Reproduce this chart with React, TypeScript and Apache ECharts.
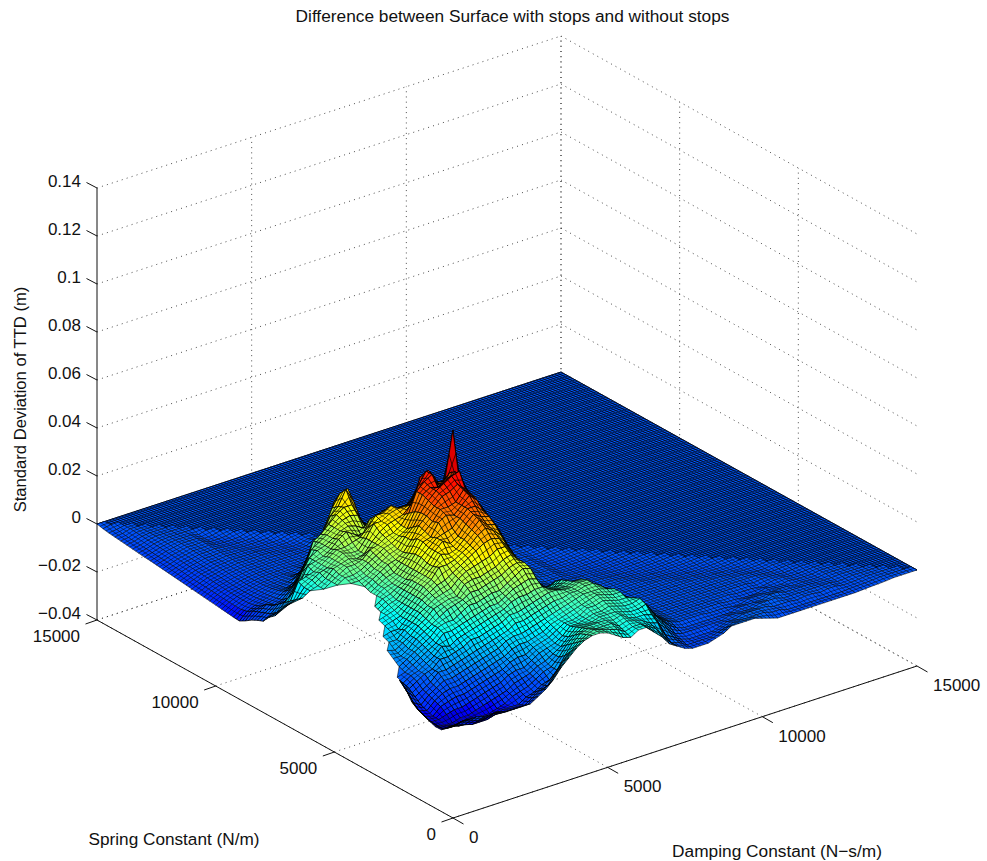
import React, { useEffect, useRef } from "react";
import * as echarts from "echarts";

const _ = null;
const titleText = "Difference between Surface with stops and without stops";
const xAxisName = "Damping Constant (N\u2212s/m)";
const yAxisName = "Spring Constant (N/m)";
const zAxisName = "Standard Deviation of TTD (m)";
const xyTicks = [0, 5000, 10000, 15000];
const zTicks = [-0.04, -0.02, 0, 0.02, 0.04, 0.06, 0.08, 0.1, 0.12, 0.14];
const zLabels = ["\u22120.04", "\u22120.02", "0", "0.02", "0.04", "0.06", "0.08", "0.1", "0.12", "0.14"];
const SPAN = 15000;
const CELLS = 60; // surface read every 250 units
const FINE = 150; // flat part of the sheet, z = 0, mesh every 100 units

// Heights in mm; row = damping index, column = spring index. Unlisted columns lie on the flat z = 0 part.
const heights: (number | null)[][] = [
  [-2,-4,-6,-6,-5,-4,-3,-1,3,5,_,_,_,_,_,_,_,_,_,_,_,_,_,_,_,_,_,_,_,_,3,1,-2,-3,-4.3,-6,-7.4,-7.2,-6.9,-6.6,-6.3,-6,-5.7,-5.4,-5.1,-4.8,-4.5,-4.2,-3.9,-3.6,-3.3,-3,-2.8,-2.5,-2.2,-1.9,-1.6,-1.3,-1,-0.6],
  [-1,-4,-6,-8,-8,-8,-7,-6,-4,-1,2,_,_,_,_,_,_,_,_,_,_,_,_,_,_,_,_,_,_,8,5,2,0,-1,-2,-3,-4.5,-5,-5,-4.8,-4.6,-4.4,-4.2,-4,-3.8,-3.6,-3.3,-3,-2.8,-2.6,-2.4,-2.2,-2,-1.8,-1.6,-1.4,-1.2,-0.9,-0.6],
  [-1,-3,-6,-8,-9,-8,-8,-7,-6,-4,-2,-1,0,_,_,_,_,_,_,_,_,_,_,_,_,_,_,_,11,9,7,5,3,1,0,-2,-3,-3.5,-3.6,-3.5,-3.4,-3.2,-3,-2.8,-2.6,-2.4,-2.2,-2,-1.8,-1.6,-1.4,-1.2,-1,-0.8,-0.6,-0.4,-0.2],
  [-1,-4,-7,-9,-9,-7,-5,-4,-3,-2,0,1,1,2,4,6,_,_,_,_,_,_,_,_,_,_,_,_,13,13,14,8,2,0,-1,-1.6,-2,-2.4,-2.6,-2.7,-2.7,-2.6,-2.4,-2.2,-2,-1.8,-1.6,-1.4,-1.2,-1,-0.8,-0.6,-0.4,-0.2],
  [-2,-5,-8,-9,-8,-6,-4,-2,-1,0,2,2,3,4,4,5,7,8,_,_,_,_,_,_,_,_,_,14,14,15,15,11,6,2,0,-0.8,-1.2,-1.6,-1.8,-1.9,-1.9,-1.8,-1.7,-1.5,-1.3,-1.1,-0.9,-0.7,-0.5,-0.3,-0.1],
  [-2,-5,-8,-8,-8,-6,-3,-1,1,3,3,4,5,6,6,7,7,9,10,11,_,_,_,_,_,_,16,16,16,17,16,17,13,7,3,1,0,-0.6,-1,-1.2,-1.3,-1.3,-1.2,-1.1,-1,-0.9,-0.8,-0.6,-0.4,-0.3,-0.2],
  [-2,-4,-8,-8,-7,-5,-3,-1,1,3,6,6,7,8,9,9,10,9,11,12,12,13,_,_,_,17,18,18,19,18,18,18,18,12,6,2,0,-0.5,-0.8,-0.9,-0.9,-0.9,-0.8,-0.7,-0.6,-0.5,-0.4,-0.3,-0.2,-0.1],
  [-3,-5,-7,-8,-6,-4,-2,0,2,4,6,9,9,10,11,12,12,12,12,13,14,15,15,15,16,17,18,20,20,20,20,19,20,19,11,5,1,0,-0.5,-0.6,-0.7,-0.7,-0.7,-0.7,-0.6,-0.6,-0.6,-0.6,-0.6,-0.8,-1,-1,-0.8],
  [-3,-5,-6,-7,-5,-3,-1,1,3,5,7,8,12,13,13,14,15,15,15,15,15,16,17,17,18,18,19,20,21,22,22,21,21,21,20,12,5,1,0,-0.5,-0.6,-0.6,-0.6,-0.6,-0.6,-0.6,-0.6,-0.7,-0.9,-1,-1,-0.8],
  [-3,-5,-6,-6,-4,-2,0,2,4,6,8,10,12,14,15,17,17,18,18,18,18,18,18,19,20,20,21,21,20,21,22,24,23,23,22,17,10,3,0,-0.5,-0.5,-0.5,-0.5,-0.5,-0.5,-0.6,-0.8,-1,-1,-1,-0.8],
  [-3,-5,-6,-4,-3,-1,1,3,5,7,10,11,13,14,17,18,19,20,21,21,21,20,20,20,22,22,23,24,21,21,23,26,25,25,25,20,12,5,1,0,-0.5,-0.5,-0.5,-0.5,-0.6,-0.8,-1,-1,-1,-0.8],
  [-1,-3,-4,-3,-1,1,2,4,6,8,10,12,14,16,18,19,20,22,23,23,23,23,23,23,23,24,25,25,25,25,24,24,26,27,28,26,20,10,3,0,-0.5,-0.5,-0.5,-0.6,-0.8,-1,-1,-1,-0.8],
  [1,-1,-3,-2,0,2,4,5,7,9,11,13,15,18,19,19,21,23,27,26,26,27,27,26,25,25,26,27,28,30,27,22,25,28,30,29,27,16,7,2,0,-0.5,-0.5,-0.6,-0.8,-1,-1,-0.8],
  [4,0,-1,0,1,2,5,7,9,10,12,14,16,18,21,23,24,25,27,30,30,30,31,31,29,29,28,28,30,30,31,28,23,27,30,35,32,27,15,6,1,0,-0.5,-0.8,-1,-1,-0.8],
  [8,4,0,2,3,4,5,8,10,11,13,15,17,19,21,24,26,27,28,29,33,33,32,33,34,32,30,30,31,32,31,29,24,21,24,29,33,29,22,13,5,1,0,-0.5,-0.8,-0.6],
  [11,8,3,3,4,6,7,8,10,13,15,16,17,20,22,24,27,29,30,30,31,34,37,36,37,37,36,34,32,33,33,30,26,22,18,17,18,22,24,20,12,6,2,1,0],
  [14,11,8,6,6,7,8,9,11,13,15,18,19,20,23,25,28,31,32,33,33,35,39,40,40,41,42,42,35,33,31,29,27,22,18,14,12,14,18,18,12,6,2,0],
  [16,14,12,10,8,8,9,10,12,14,16,19,21,22,24,26,29,33,35,36,37,38,38,40,43,44,44,45,42,33,31,29,27,25,22,18,15,12,12,13,12,7,3,0],
  [17,16,15,13,11,10,11,12,13,15,17,19,22,24,26,28,31,34,37,39,40,41,41,41,44,46,43,47,47,43,33,29,26,24,20,16,13,10,8,7,6,4,0],
  [17,17,16,15,14,13,13,13,14,16,18,20,23,26,27,29,31,33,35,36,38,41,44,45,46,48,45,39,44,45,40,34,27,23,19,15,11,9,6,4,2,0],
  [16,16,15,15,14,13,13,14,15,17,19,20,22,25,26,26,27,29,32,35,37,38,41,42,43,49,46,43,37,39,42,38,33,25,20,14,10,7,5,2,0],
  [14,15,15,15,14,14,14,15,16,17,19,18,16,16,18,20,22,24,26,29,32,33,35,37,38,39,41,45,43,38,35,38,36,32,24,20,14,9,6,0],
  [12,14,15,15,15,15,16,16,17,18,18,17,15,14,12,14,16,18,20,22,25,28,30,32,34,36,37,38,42,41,37,31,34,32,28,22,16,10,0],
  [11,12,13,14,15,15,16,17,18,18,18,17,16,14,12,10,12,14,16,17,19,21,24,26,28,30,32,33,34,38,56,36,30,30,30,26,20,0],
  [13,13,14,15,15,16,17,18,18,19,19,18,17,16,14,11,8,8,10,12,13,14,15,17,19,21,23,24,26,27,28,34,30,24,20,16,0],
  [13,13,13,13,14,15,16,17,18,19,19,18,15,13,11,8,6,5,5,6,7,8,9,10,11,12,14,15,16,17,18,20,19,14,9,0],
  [10,11,12,12,13,14,15,16,17,17,16,13,10,7,5,4,3,2,2,3,3,4,4,5,5,6,7,8,9,10,10,9,6,3,0],
  [7,9,10,12,13,14,15,16,16,14,10,7,5,3,2,1,1,1,1,1,1,1,2,2,3,3,4,4,4,3,2,1,0],
  [3,5,9,11,14,15,14,12,9,5,3,2,1,0.5,0,0,0,0,0,0,0,0,0.5,1,1,1,1,0.5,0],
  [1,1,3,6,9,11,11,9,6,3,2,1,0.5,0],
  [-1,0,1,3,5,6,6,5,3,2,1,0.5,0],
  [-2,-2,-1,0,2,3,3,2,2,1,0.5,0,0,0,0,0,0,0,0,0,-0.3,-0.5,-0.7,-0.8,-0.8,-0.8,-0.7,-0.5,-0.3],
  [-2,-2,-2,-1,0,1,1,1,1,0.5,0,0,0,0,0,0,0,0,0,-0.3,-0.5,-0.7,-0.8,-0.8,-0.8,-0.7,-0.5,-0.3],
  [-2,-2,-2,-1,-1,0,0,0,0,0,0,0,0,0,0,0,0,0,0,-0.3,-0.5,-0.7,-0.8,-0.8,-0.7,-0.5,-0.3],
  [-1,-2,-2,-1,-1,0,0,0,0,0,0,0,0,0,0,0,0,0,-0.3,-0.5,-0.7,-0.8,-0.8,-0.7,-0.5,-0.3],
  [0,-1,-2,-1,-1,0,0,0,0,0,0,0,0,0,0,0,0,-0.3,-0.5,-0.7,-0.8,-0.8,-0.7,-0.5,-0.3],
  [2,0,-1,-1,-1,0,0,0,0,0,0,0,0,0,0,0,-0.3,-0.5,-0.7,-0.8,-0.7,-0.6,-0.5,-0.3],
  [2,1,0,-1,-1,-0.5,0,0,0,0,0,0,0,0,0,-0.3,-0.5,-0.7,-0.8,-0.7,-0.6,-0.5,-0.3],
  [2,1,0,0,-1,-0.5,0,0,0,0,0,0,0,0,0,-0.3,-0.5,-0.7,-0.7,-0.6,-0.5,-0.3],
  [2,1,1,0,-1,-0.5,0,0,0,0,0,0,0,0,-0.3,-0.5,-0.7,-0.7,-0.6,-0.5,-0.3],
  [1,1,1,0,0,-1,-0.5,0,0,0,0,0,0,-0.3,-0.5,-0.7,-0.7,-0.6,-0.5,-0.3],
  [0,1,1,0,0,-1,-0.5,0,0,0,0,0,0,-0.3,-0.5,-0.7,-0.6,-0.5,-0.3],
  [-1,0,1,1,0,0,-1,-0.5,0,0,0,0,-0.3,-0.5,-0.7,-0.6,-0.5,-0.3],
  [-1,0,0,1,0,0,-1,-0.5,0,0,0,0,-0.3,-0.5,-0.6,-0.5,-0.3],
  [-1,-1,0,1,1,0,-1,-0.5,0,0,0,-0.3,-0.5,-0.6,-0.5,-0.3],
  [-1,-1,0,0,1,0,0,-1,-0.5,0,0,-0.3,-0.5,-0.5,-0.3],
  [-1,-1,-0.5,0,0,0,-0.5,-0.5,0,0,-0.3,-0.5,-0.5,-0.3],
  [-1,-1,0,0,0,0,-0.5,0,0,-0.3,-0.5,-0.5,-0.3],
  [-1,-1,0,0,0,-0.5,0,0,-0.3,-0.5,-0.5,-0.3],
  [-1,-1,-0.5,0,0,-0.3,-0.5,-0.5,-0.5,-0.3],
  [-1,-1,0,0,-0.3,-0.5,-0.5,-0.5,-0.3],
  [-1,-1,0,0,-0.3,-0.5,-0.5,-0.3],
  [-1,-0.8,-0.6,-0.5,-0.3],
  [-0.8,-0.6,-0.5,-0.3],
  [-0.6,-0.5,-0.3],
  [-0.5,-0.3],
  [-0.3],
];

const zAt = (i: number, j: number): number | null => {
  const row = heights[i];
  if (!row || j >= row.length) return 0;
  return row[j];
};

// View: oblique projection of the MATLAB box.
const project = (u: number, v: number, zMetres: number): number[] => [
  453 + 464 * u - 356 * v,
  722 - 152 * u - 198 * v - 2400 * zMetres,
];

const jet = (t: number): string => {
  const c = (x: number) => Math.round(255 * Math.max(0, Math.min(1, x)));
  const r = 1.5 - Math.abs(4 * t - 3);
  const g = 1.5 - Math.abs(4 * t - 2);
  const b = 1.5 - Math.abs(4 * t - 1);
  return `rgb(${c(r)},${c(g)},${c(b)})`;
};
const colourOf = (mm: number): string => {
  const zero = 15 / 71;
  let t = (mm + 15) / 71;
  if (mm < 0) t = mm > -5 ? zero + mm * 0.008 : Math.max(0.05, zero - 0.04 + (mm + 5) * 0.028);
  return jet(t);
};

const cellList: number[][] = [];
for (let i = CELLS - 1; i >= 0; i--) {
  for (let j = CELLS - 1 - i; j >= 0; j--) {
    const corners = [zAt(i, j), zAt(i + 1, j), zAt(i + 1, j + 1), zAt(i, j + 1)];
    if (corners.filter((c) => c !== null).length >= 3) cellList.push([i, j]);
  }
}

const dot = { stroke: "#222", lineWidth: 1, lineDash: [1, 4.2], opacity: 0.8 };
const solid = { stroke: "#111", lineWidth: 1 };
type Seg = { a: number[]; b: number[]; style: any };
const segments: Seg[] = [];
const zLow = zTicks[0];
const zHigh = zTicks[zTicks.length - 1];
const add = (a: number[], b: number[], style: any) => segments.push({ a, b, style });
for (const t of xyTicks) {
  const f = t / SPAN;
  add(project(f, 0, zLow), project(f, 1, zLow), dot);
  add(project(0, f, zLow), project(1, f, zLow), dot);
  if (t > 0) {
    add(project(f, 1, zLow), project(f, 1, zHigh), dot);
    add(project(1, f, zLow), project(1, f, zHigh), dot);
  }
}
for (const z of zTicks) {
  add(project(0, 1, z), project(1, 1, z), dot);
  add(project(1, 1, z), project(1, 0, z), dot);
}
add(project(0, 0, zLow), project(1, 0, zLow), solid);
add(project(0, 0, zLow), project(0, 1, zLow), solid);
add(project(0, 1, zLow), project(0, 1, zHigh), solid);
for (const t of xyTicks) {
  const f = t / SPAN;
  const p = project(f, 0, zLow);
  add(p, [p[0] + 10.5, p[1] + 6], solid);
  const q = project(0, f, zLow);
  add(q, [q[0] - 11.5, q[1] + 4], solid);
}
for (const z of zTicks) {
  const p = project(0, 1, z);
  add(p, [p[0] - 10.5, p[1] - 5.5], solid);
}
const segIndex = segments.map((_s, k) => [k, 0]);

const sheetLines: number[][] = [];
for (let k = 0; k <= FINE; k++) {
  sheetLines.push([k / FINE, 1 - k / FINE, k / FINE, 1]);
  sheetLines.push([1 - k / FINE, k / FINE, 1, k / FINE]);
}

const mkText = (text: string, x: number, y: number, align: string, rotation = 0, size = 17) => ({
  type: "text",
  x,
  y,
  rotation,
  style: { text, x: 0, y: 0, font: `${size}px "Liberation Sans", Arial, sans-serif`, fill: "#111", align, verticalAlign: "middle" },
});

export default function App() {
  const ref = useRef<HTMLDivElement>(null);
  useEffect(() => {
    document.body.style.margin = "0";
    const chart = echarts.init(ref.current!, undefined, { renderer: "svg", width: 987, height: 861 });
    const tickTexts: any[] = [];
    xyTicks.forEach((t) => {
      const f = t / SPAN;
      const p = project(f, 0, zLow);
      tickTexts.push(mkText(String(t), p[0] + 16, p[1] + 19.5, "left"));
      const q = project(0, f, zLow);
      tickTexts.push(mkText(String(t), q[0] - 17, q[1] + 16, "right"));
    });
    zTicks.forEach((z, k) => {
      const p = project(0, 1, z);
      tickTexts.push(mkText(zLabels[k], p[0] - 16, p[1] - 7, "right"));
    });
    chart.setOption({
      animation: false,
      title: {
        text: titleText,
        left: 507.5,
        top: 2,
        textAlign: "center",
        textStyle: { fontFamily: '"Liberation Sans", Arial, sans-serif', fontSize: 17.3, fontWeight: "normal", color: "#111" },
      },
      grid: { left: 0, right: 0, top: 0, bottom: 0 },
      xAxis: { type: "value", min: 0, max: 987, show: false },
      yAxis: { type: "value", min: 0, max: 861, inverse: true, show: false },
      graphic: [
        ...tickTexts,
        mkText(yAxisName, 174, 839, "center", 0, 17.2),
        mkText(xAxisName, 777, 851, "center", 0, 17.3),
        mkText(zAxisName, 20, 399.5, "center", Math.PI / 2, 16.6),
      ],
      series: [
        {
          type: "custom",
          coordinateSystem: "cartesian2d",
          silent: true,
          clip: false,
          progressive: 0,
          data: segIndex,
          renderItem: (_p: any, api: any) => {
            const s = segments[api.value(0)];
            const a = api.coord(s.a);
            const b = api.coord(s.b);
            return { type: "line", shape: { x1: a[0], y1: a[1], x2: b[0], y2: b[1] }, style: s.style };
          },
        },
        {
          type: "custom",
          coordinateSystem: "cartesian2d",
          silent: true,
          clip: false,
          progressive: 0,
          data: [[0, 0]],
          renderItem: (_p: any, api: any) => {
            const pts = [project(0, 1, 0), project(1, 1, 0), project(1, 0, 0)].map((p) => api.coord(p));
            const lines = sheetLines.map((l) => {
              const a = api.coord(project(l[0], l[1], 0));
              const b = api.coord(project(l[2], l[3], 0));
              return {
                type: "line",
                shape: { x1: a[0], y1: a[1], x2: b[0], y2: b[1] },
                style: { stroke: "#000", lineWidth: 0.75, opacity: 0.9 },
              };
            });
            return {
              type: "group",
              children: [{ type: "polygon", shape: { points: pts }, style: { fill: colourOf(0), stroke: "#0a2a70", lineWidth: 1 } }, ...lines],
            };
          },
        },
        {
          type: "custom",
          coordinateSystem: "cartesian2d",
          silent: true,
          clip: false,
          progressive: 0,
          data: cellList,
          renderItem: (_p: any, api: any) => {
            const i = api.value(0);
            const j = api.value(1);
            const raw = [zAt(i, j), zAt(i + 1, j), zAt(i + 1, j + 1), zAt(i, j + 1)];
            const place = [[i, j], [i + 1, j], [i + 1, j + 1], [i, j + 1]];
            const known = raw.filter((z) => z !== null) as number[];
            const avg = known.reduce((s, z) => s + z, 0) / known.length;
            const top = Math.max(...known);
            const low = Math.min(...known);
            const tone = top - low > 9 ? (avg + top) / 2 : avg;
            const quiet = top - low < 2.5;
            const corners = place.map((p, k) =>
              raw[k] === null ? null : api.coord(project(p[0] / CELLS, p[1] / CELLS, (raw[k] as number) / 1000))
            );
            const face = {
              type: "polygon",
              shape: { points: corners.filter((c) => c !== null) },
              style: { fill: colourOf(tone), stroke: "#000", lineWidth: quiet ? 0.55 : 0.8 },
            };
            if (known.length < 4) return face;
            const [c0, c1, c2, c3] = corners as number[][];
            const mid = (a: number[], b: number[]) => [(a[0] + b[0]) / 2, (a[1] + b[1]) / 2];
            const m01 = mid(c0, c1);
            const m12 = mid(c1, c2);
            const m23 = mid(c2, c3);
            const m30 = mid(c3, c0);
            const inner = { stroke: "#000", lineWidth: quiet ? 0.5 : 0.7 };
            return {
              type: "group",
              children: [
                face,
                { type: "line", shape: { x1: m01[0], y1: m01[1], x2: m23[0], y2: m23[1] }, style: inner },
                { type: "line", shape: { x1: m30[0], y1: m30[1], x2: m12[0], y2: m12[1] }, style: inner },
              ],
            };
          },
        },
      ],
    });
    return () => chart.dispose();
  }, []);
  return <div ref={ref} style={{ position: "fixed", left: 0, top: 0, width: 987, height: 861, background: "#fff" }} />;
}
